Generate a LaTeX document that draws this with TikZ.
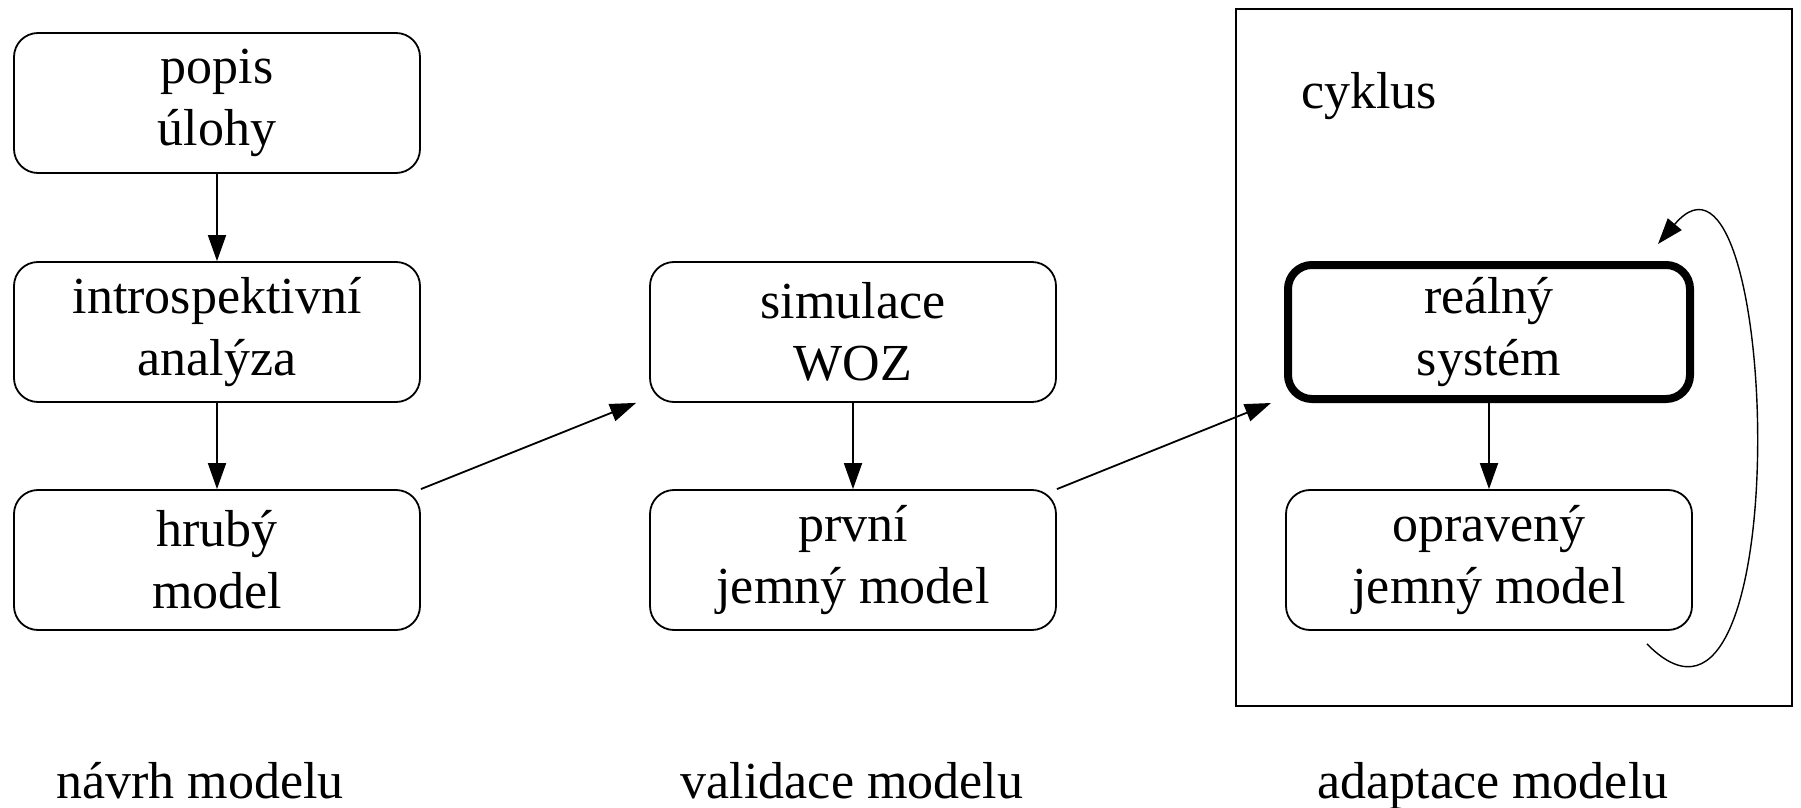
\documentclass[tikz,border=0pt]{standalone}
\usepackage{fontspec}
\setmainfont{Liberation Serif}
\usepackage{tikz}
\usetikzlibrary{arrows.meta, positioning}

\begin{document}
\begin{tikzpicture}[x=0.5pt, y=-0.5pt,
  stage/.style={draw, rounded corners=12pt, line width=0.9pt, minimum width=203pt, minimum height=70pt,
    align=center, inner sep=0pt, font=\fontsize{26}{31}\selectfont},
  flow/.style={-{Triangle[length=13pt, width=9pt]}, line width=0.9pt},
  caption/.style={anchor=base, font=\fontsize{26}{31}\selectfont}]
  \useasboundingbox (0,0) rectangle (1801,808);

  % cycle frame
  \node[draw, line width=1.3pt, minimum width=278pt, minimum height=348.5pt, inner sep=0pt] (frame) at (1514,357.5) {};
  \node[anchor=base west, font=\fontsize{26}{31}\selectfont, inner sep=0pt] (cyklus) at (1301,109) {cyklus};

  % model stages
  \node[stage] (popis) at (217,103) {popis\\úlohy};
  \node[stage] (intro) at (217,332) {introspektivní\\analýza};
  \node[stage] (hruby) at (217,560) {hrubý\\model};
  \node[stage] (simul) at (853,332) {simulace\\WOZ};
  \node[stage] (prvni) at (853,560) {první\\jemný model};
  \node[stage, line width=4pt, minimum width=201pt, minimum height=67pt] (realny) at (1489,332) {reálný\\systém};
  \node[stage] (oprav) at (1489,560) {opravený\\jemný model};

  % phase captions
  \node[caption] (navrh) at (200,798) {návrh modelu};
  \node[caption] (valid) at (852,798) {validace modelu};
  \node[caption] (adapt) at (1493,798) {adaptace modelu};

  % arrows
  \draw[flow] (popis) -- (intro);
  \draw[flow] (intro) -- (hruby);
  \draw[flow] (simul) -- (prvni);
  \draw[flow] (realny) -- (oprav);
  \draw[flow] (hruby.north east) -- ([xshift=-6.5pt]simul.south west);
  \draw[flow] (prvni.north east) -- ([xshift=-6.5pt]realny.south west);

  % loop back
  \coordinate (loopstart) at ([xshift=-23pt, yshift=-6.5pt]oprav.south east);
  \coordinate (loopend) at ([xshift=-18pt, yshift=8.5pt]realny.north east);
  \draw[flow, line width=0.7pt] (loopstart) .. controls (1800,800) and (1780,100) .. (loopend);
\end{tikzpicture}
\end{document}
